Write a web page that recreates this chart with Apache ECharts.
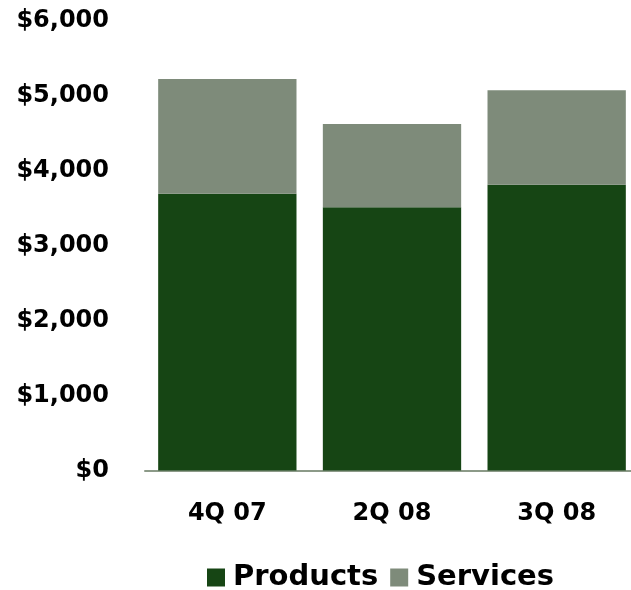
<!DOCTYPE html>
<html>
<head>
<meta charset="utf-8">
<style>
html,body{margin:0;padding:0;background:#fff;}
#chart{width:631px;height:590px;}
</style>
<script src="https://cdn.jsdelivr.net/npm/echarts@6/dist/echarts.min.js"></script>
</head>
<body>
<div id="chart"></div>
<script>
const categories = ['4Q 07', '2Q 08', '3Q 08'];
const products = [3690, 3510, 3810];
const services = [1530, 1110, 1260];
const yTicks = [0, 1000, 2000, 3000, 4000, 5000, 6000];

const FONT = '"DejaVu Sans", sans-serif';
const chart = echarts.init(document.getElementById('chart'), null, {renderer: 'canvas'});
chart.setOption({
  animation: false,
  backgroundColor: '#ffffff',
  grid: {left: 145, width: 494, top: 20.5, height: 450, containLabel: false, outerBoundsMode: 'none'},
  legend: {
    data: ['Products', 'Services'],
    left: 202, top: 558,
    itemWidth: 18, itemHeight: 18, itemGap: 12,
    icon: 'rect',
    textStyle: {fontFamily: FONT, fontWeight: 'bold', fontSize: 29, color: '#000', padding: [0, 0, 0, 3]}
  },
  xAxis: {
    type: 'category',
    data: categories,
    axisLine: {show: true, lineStyle: {color: '#8c9a88', width: 2}},
    axisTick: {show: false},
    axisLabel: {fontFamily: FONT, fontWeight: 'bold', fontSize: 24, color: '#000', margin: 31}
  },
  yAxis: {
    type: 'value',
    min: yTicks[0], max: yTicks[yTicks.length - 1], interval: 1000,
    splitLine: {show: false},
    axisLine: {show: false},
    axisTick: {show: false},
    axisLabel: {
      fontFamily: FONT, fontWeight: 'bold', fontSize: 24, color: '#000', margin: 36,
      formatter: v => '$' + v.toLocaleString('en-US')
    }
  },
  series: [
    {name: 'Products', type: 'bar', stack: 'a', data: products, barCategoryGap: '16%',
     itemStyle: {color: '#164514'}},
    {name: 'Services', type: 'bar', stack: 'a', data: services, barCategoryGap: '16%',
     itemStyle: {color: '#7e8b7a'}}
  ]
});
</script>
</body>
</html>
